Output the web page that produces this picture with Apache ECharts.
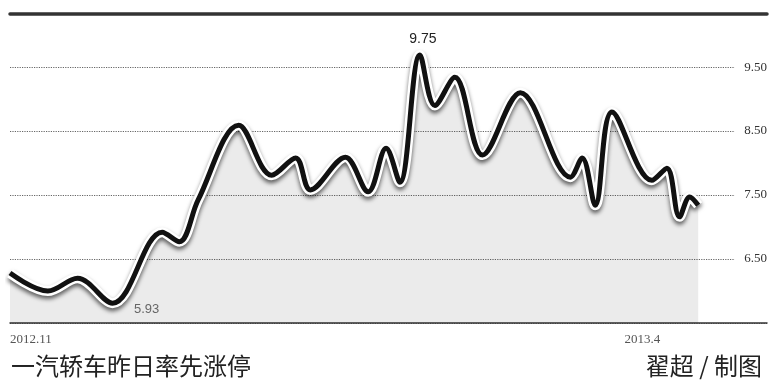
<!DOCTYPE html>
<html>
<head>
<meta charset="utf-8">
<script src="https://cdn.jsdelivr.net/npm/echarts@6/dist/echarts.min.js"></script>
<style>
  html, body { margin: 0; padding: 0; background: #fff; }
  #chart { width: 770px; height: 381px; }
</style>
</head>
<body>
<div id="chart"></div>
<script>
// days since 2012-11-01 and closing price
const dayOffsets = [0, 9.3, 16.6, 25.2, 37.4, 41.6, 46.2, 56.2, 64.3, 70.2, 73.8, 82.4, 88.0, 92.4, 95.8,
  100.7, 104.4, 109.3, 116.1, 125.4, 137.7, 140.6, 143.8, 147.9, 157.7, 161.4, 164.5, 167.0, 169.1]
const prices = [6.28, 6.0, 6.2, 5.81, 6.92, 6.77, 7.42, 8.59, 7.81, 8.08, 7.58, 8.09, 7.55, 8.23, 7.7,
  9.69, 8.9, 9.34, 8.125, 9.1, 7.78, 8.08, 7.34, 8.8, 7.73, 7.92, 7.16, 7.47, 7.34]

const xTickDays = [0, 151]
const xTickLabels = ['2012.11', '2013.4']
const yTicks = [6.5, 7.5, 8.5, 9.5]

const noteIdx = [15, 3]
const noteText = ['9.75', '5.93']

const title = '一汽轿车昨日率先涨停'
const credit = '翟超 / 制图'

const points = dayOffsets.map((d, i) => [d, prices[i]])

const chart = echarts.init(document.getElementById('chart'))

const option = {
  animation: false,
  backgroundColor: '#fff',
  title: [
    {
      text: title,
      left: 6,
      top: 349,
      textStyle: { fontFamily: 'Noto Sans CJK SC', fontSize: 24, fontWeight: 'normal', color: '#222' }
    },
    {
      text: credit,
      right: 3,
      top: 349,
      textStyle: { fontFamily: 'Noto Sans CJK SC', fontSize: 24, fontWeight: 'normal', color: '#222' }
    }
  ],
  grid: { left: 10, right: 0, top: 14, bottom: 58 },
  xAxis: [
    {
      type: 'value',
      min: 0,
      max: 186,
      axisLine: { lineStyle: { color: '#333', width: 1.5 } },
      axisTick: { show: false },
      splitLine: { show: false },
      axisLabel: {
        customValues: xTickDays,
        formatter: v => xTickLabels[xTickDays.indexOf(v)] || '',
        align: 'left',
        margin: 10,
        color: '#555',
        fontFamily: 'Liberation Serif',
        fontSize: 13
      }
    },
    {
      type: 'value',
      position: 'top',
      min: 0,
      max: 186,
      axisLine: { lineStyle: { color: '#333', width: 3.5 } },
      axisTick: { show: false },
      axisLabel: { show: false },
      splitLine: { show: false }
    }
  ],
  yAxis: {
    type: 'value',
    position: 'right',
    min: 5.5,
    max: 10.33,
    interval: 1,
    axisLine: { show: false },
    axisTick: { show: false },
    splitLine: { lineStyle: { type: 'dotted', color: '#666', width: 1.2 } },
    axisLabel: {
      inside: true,
      margin: 0,
      showMinLabel: false,
      showMaxLabel: false,
      formatter: v => (yTicks.indexOf(v) >= 0 ? v.toFixed(2) : ''),
      color: '#333',
      fontFamily: 'Liberation Serif',
      fontSize: 13,
      backgroundColor: '#fff',
      padding: [2, 0, 2, 10]
    }
  },
  series: [
    {
      // white halo with soft shadow under the main line
      type: 'line',
      data: points,
      smooth: 0.35,
      symbol: 'none',
      z: 2,
      lineStyle: {
        color: '#fff',
        width: 10,
        shadowColor: 'rgba(0,0,0,0.6)',
        shadowBlur: 4,
        shadowOffsetY: 3
      },
      areaStyle: { color: 'rgba(0,0,0,0.11)', origin: 'start' }
    },
    {
      type: 'line',
      data: points,
      smooth: 0.35,
      symbol: 'none',
      z: 3,
      lineStyle: { color: '#111', width: 5 },
      markPoint: {
        symbol: 'circle',
        symbolSize: 0,
        data: noteIdx.map((idx, i) => ({
          coord: points[idx],
          value: noteText[i],
          label: i === 0
            ? { show: true, formatter: noteText[i], offset: [3, -16], color: '#222', fontSize: 14, fontFamily: 'Liberation Sans' }
            : { show: true, formatter: noteText[i], offset: [34, 6], color: '#666', fontSize: 13, fontFamily: 'Liberation Sans' }
        }))
      }
    }
  ]
}

chart.setOption(option)
</script>
</body>
</html>
